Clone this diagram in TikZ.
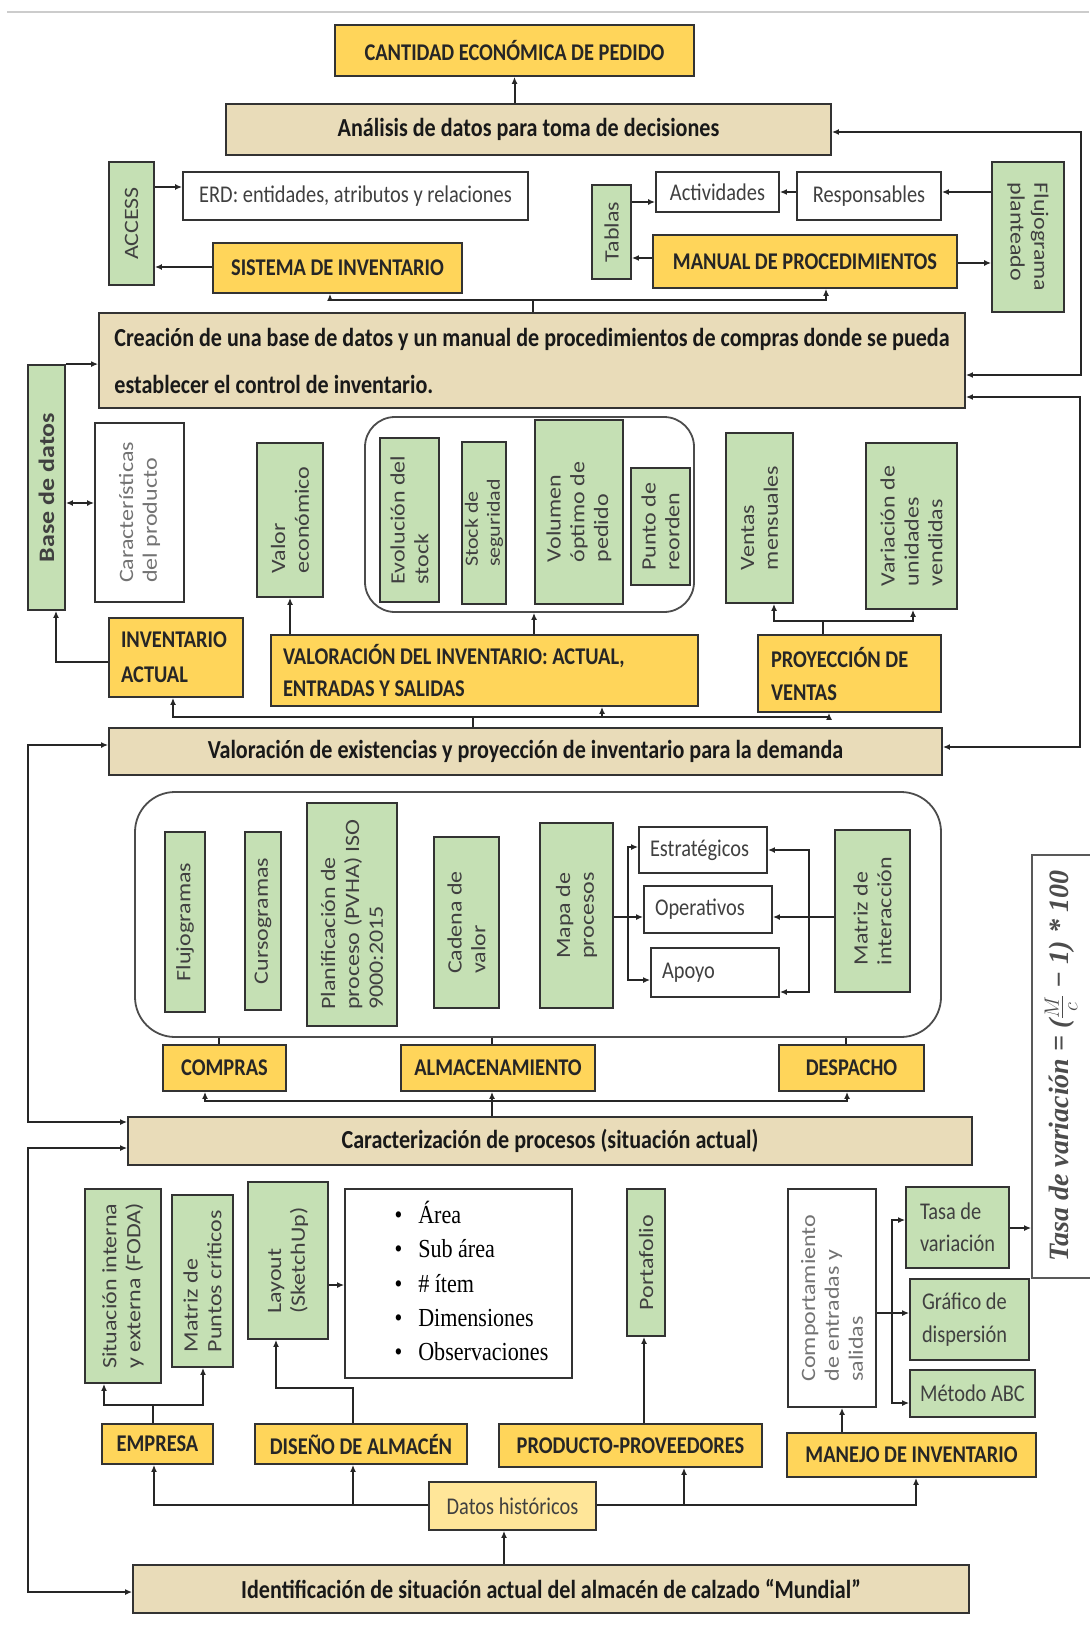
\documentclass[tikz,border=0pt]{standalone}
\usepackage{amsmath,amssymb}
\usepackage{fontspec}
\setmainfont{Carlito}[FakeStretch=0.85]
\newfontfamily\vfont{Carlito}
\newfontfamily\listfont{Liberation Serif}[FakeStretch=0.85]
\newfontfamily\formfont{Liberation Serif}
\usetikzlibrary{arrows.meta}
\definecolor{gold}{HTML}{FFD55A}
\definecolor{parch}{HTML}{E9DCB9}
\definecolor{leaf}{HTML}{C5E0B4}
\definecolor{pale}{HTML}{FFE699}

\tikzset{
  bx/.style={draw=black!80, line width=1.8pt, inner sep=0pt, text=black!85},
  ybox/.style={bx, fill=gold, font=\bfseries\fontsize{24}{28}\selectfont},
  tbox/.style={bx, fill=parch, text=black!90, font=\bfseries\fontsize{26}{30}\selectfont},
  gbox/.style={bx, fill=leaf, text=black!75, font=\fontsize{24}{28}\selectfont},
  wbox/.style={bx, fill=white, text=black!75, font=\fontsize{24}{28}\selectfont},
  vbase/.style={align=left, text=black!75, font=\vfont\fontsize{24}{28}\selectfont},
  vt/.style={vbase, rotate=90, yscale=0.85},
  vtr/.style={vbase, rotate=-90, yscale=0.85},
  grp/.style={draw=black!70, line width=1.8pt, rounded corners=30pt},
  link/.style={line width=2pt, draw=black!85},
  arr/.style={link, -{Latex[length=7pt,width=6pt]}},
  dbl/.style={link, {Latex[length=7pt,width=6pt]}-{Latex[length=7pt,width=6pt]}},
}

\begin{document}
\begin{tikzpicture}[x=1pt,y=-1pt]
\useasboundingbox (0,0) rectangle (1089,1629);
\draw[black!20, line width=2pt] (7,12) -- (1089,12);

% decision and design
\node[ybox, minimum width=359, minimum height=51] (ceq) at (514.5,50.5) {CANTIDAD ECONÓMICA DE PEDIDO};
\node[tbox, minimum width=605, minimum height=51] (anal) at (528.5,129.5) {Análisis de datos para toma de decisiones};
\node[gbox, minimum width=45, minimum height=123, label={[vt]center:{ACCESS}}] (access) at (131.5,223.5) {};
\node[wbox, minimum width=345, minimum height=48] (erd) at (355.5,196) {ERD: entidades, atributos y relaciones};
\node[ybox, minimum width=249, minimum height=50] (sisinv) at (337.5,268) {SISTEMA DE INVENTARIO};
\node[gbox, minimum width=39, minimum height=94, label={[vt]center:{Tablas}}] (tablas) at (611.5,232) {};
\node[wbox, minimum width=123, minimum height=40] (activ) at (717.5,192) {Actividades};
\node[wbox, minimum width=144, minimum height=48] (resp) at (869,196) {Responsables};
\node[gbox, minimum width=72, minimum height=150, label={[vtr]center:{Flujograma\\planteado}}] (flujo) at (1028,237) {};
\node[ybox, minimum width=304, minimum height=53] (manual) at (805,261.5) {MANUAL DE PROCEDIMIENTOS};
\node[tbox, minimum width=866, minimum height=95, align=flush left, font=\bfseries\fontsize{26}{47}\selectfont] (crea) at (532,360.5) {Creación de una base de datos y un manual de procedimientos de compras donde se pueda\\establecer el control de inventario.};

% valuation
\node[gbox, minimum width=37, minimum height=245, label={[vt,font=\vfont\bfseries\fontsize{26}{30}\selectfont]center:{Base de datos}}] (bd) at (46.5,487.5) {};
\node[wbox, minimum width=89, minimum height=179, label={[vt,text=black!55]center:{Características\\del producto}}] (carac) at (139.5,512.5) {};
\node[gbox, minimum width=66, minimum height=154, label={[vt]center:{Valor\\económico}}] (valor) at (290,520) {};
\node[grp, minimum width=329, minimum height=195] (grupo1) at (529.5,514.5) {};
\node[gbox, minimum width=59, minimum height=164, label={[vt]center:{Evolución del\\stock}}] (evol) at (409.5,520) {};
\node[gbox, minimum width=44, minimum height=162, label={[vt,font=\vfont\fontsize{22}{26}\selectfont]center:{Stock de\\seguridad}}] (stock) at (484,523) {};
\node[gbox, minimum width=88, minimum height=184, label={[vt]center:{Volumen\\óptimo de\\pedido}}] (vol) at (579,512) {};
\node[gbox, minimum width=59, minimum height=117, label={[vt]center:{Punto de\\reorden}}] (punto) at (660.5,526.5) {};
\node[gbox, minimum width=67, minimum height=170, label={[vt]center:{Ventas\\mensuales}}] (vmens) at (759.5,518) {};
\node[gbox, minimum width=91, minimum height=166, label={[vt]center:{Variación de\\unidades\\vendidas}}] (vuni) at (911.5,526) {};
\node[ybox, minimum width=134, minimum height=79, text width=110, align=flush left, font=\bfseries\fontsize{24}{35}\selectfont] (invact) at (176,657.5) {INVENTARIO\\ACTUAL};
\node[ybox, minimum width=427, minimum height=71, text width=403, align=flush left, font=\bfseries\fontsize{24}{32}\selectfont] (valinv) at (484.5,670.5) {VALORACIÓN DEL INVENTARIO: ACTUAL,\\ENTRADAS Y SALIDAS};
\node[ybox, minimum width=183, minimum height=77, text width=157, align=flush left, font=\bfseries\fontsize{24}{33}\selectfont] (proy) at (849.5,673.5) {PROYECCIÓN DE\\VENTAS};
\node[tbox, minimum width=833, minimum height=47] (exist) at (525.5,751.5) {Valoración de existencias y proyección de inventario para la demanda};

% processes
\node[grp, rounded corners=40pt, minimum width=806, minimum height=245] (grupo2) at (538,914.5) {};
\node[gbox, minimum width=40, minimum height=180, label={[vt]center:{Flujogramas}}] (flujog) at (185,922) {};
\node[gbox, minimum width=36, minimum height=178, label={[vt]center:{Cursogramas}}] (curso) at (263,921) {};
\node[gbox, minimum width=90, minimum height=223, label={[vt]center:{Planificación de\\proceso (PVHA) ISO\\9000:2015}}] (plan) at (352,914.5) {};
\node[gbox, minimum width=65, minimum height=171, label={[vt]center:{Cadena de\\valor}}] (cadena) at (466.5,922.5) {};
\node[gbox, minimum width=73, minimum height=185, label={[vt]center:{Mapa de\\procesos}}] (mapa) at (576.5,915.5) {};
\node[wbox, minimum width=128, minimum height=46, text width=106, align=flush left] (estra) at (703,850) {Estratégicos};
\node[wbox, minimum width=128, minimum height=47, text width=106, align=flush left] (oper) at (708,909.5) {Operativos};
\node[wbox, minimum width=128, minimum height=49, text width=106, align=flush left] (apoyo) at (715,972.5) {Apoyo};
\node[gbox, minimum width=75, minimum height=162, label={[vt]center:{Matriz de\\interacción}}] (matriz) at (872.5,911) {};
\node[ybox, minimum width=123, minimum height=46] (compras) at (224.5,1068) {COMPRAS};
\node[ybox, minimum width=194, minimum height=46] (almac) at (498,1068) {ALMACENAMIENTO};
\node[ybox, minimum width=145, minimum height=46] (despacho) at (851.5,1068) {DESPACHO};
\node[tbox, minimum width=844, minimum height=48] (caract) at (550,1141) {Caracterización de procesos (situación actual)};
\node[wbox, draw=black!65, minimum width=63, minimum height=423] (formula) at (1063.5,1066.5) {};
\node[rotate=90, text=black!70, font=\formfont\bfseries\itshape\fontsize{28}{32}\selectfont] (formtxt) at (1061,1066) {Tasa de variación = ($\frac{M}{c}$ − 1) * 100};

% current situation
\node[gbox, minimum width=76, minimum height=194, label={[vt]center:{Situación interna\\y externa (FODA)}}] (foda) at (123,1286) {};
\node[gbox, minimum width=61, minimum height=172, label={[vt]center:{Matriz de\\Puntos críticos}}] (mpc) at (202.5,1281) {};
\node[gbox, minimum width=80, minimum height=157, label={[vt]center:{Layout\\(SketchUp)}}] (layout) at (288,1260.5) {};
\node[wbox, minimum width=227, minimum height=189] (lista) at (458.5,1283.5) {};
\node[anchor=west, align=left, text=black, font=\listfont\fontsize{26}{34.25}\selectfont] (items) at (391,1281) {\textbullet\hspace{16pt}Área\\\textbullet\hspace{16pt}Sub área\\\textbullet\hspace{16pt}\# ítem\\\textbullet\hspace{16pt}Dimensiones\\\textbullet\hspace{16pt}Observaciones};
\node[gbox, minimum width=38, minimum height=147, label={[vt]center:{Portafolio}}] (porta) at (646,1262.5) {};
\node[wbox, minimum width=88, minimum height=218, label={[vt,text=black!55]center:{Comportamiento\\de entradas y\\salidas}}] (comp) at (832,1298) {};
\node[gbox, minimum width=103, minimum height=81, text width=75, align=flush left, font=\fontsize{24}{32}\selectfont] (tasa) at (957.5,1227.5) {Tasa de\\variación};
\node[gbox, minimum width=119, minimum height=81, text width=95, align=flush left, font=\fontsize{24}{33}\selectfont] (graf) at (969.5,1319.5) {Gráfico de\\dispersión};
\node[gbox, minimum width=125, minimum height=47] (abc) at (972.5,1393.5) {Método ABC};
\node[ybox, minimum width=111, minimum height=40] (empresa) at (157.5,1444) {EMPRESA};
\node[ybox, minimum width=212, minimum height=40] (diseno) at (361,1444) {DISEÑO DE ALMACÉN};
\node[ybox, minimum width=263, minimum height=43] (producto) at (630.5,1445.5) {PRODUCTO-PROVEEDORES};
\node[ybox, minimum width=249, minimum height=44] (manejo) at (911.5,1455) {MANEJO DE INVENTARIO};
\node[bx, fill=pale, text=black!75, font=\fontsize{24}{28}\selectfont, minimum width=167, minimum height=48] (datos) at (512.5,1506) {Datos históricos};
\node[tbox, minimum width=836, minimum height=48] (ident) at (551,1589) {Identificación de situación actual del almacén de calzado “Mundial”};

% connectors, top half
\draw[arr] (anal.north -| ceq.south) -- (ceq.south);
\draw[dbl] (crea.east |- 0,375) -- (1081,375) -- (1081,132) -- (anal.east |- 0,132);
\draw[dbl] (crea.east |- 0,397) -- (1080,397) -- (1080,747) -- (exist.east |- 0,747);
\draw[arr] (access.east |- 0,187) -- (erd.west |- 0,187);
\draw[arr] (sisinv.west |- 0,267) -- (access.east |- 0,267);
\draw[arr] (flujo.west |- 0,192) -- (resp.east |- 0,192);
\draw[arr] (resp.west |- 0,192) -- (activ.east |- 0,192);
\draw[arr] (tablas.east |- 0,202) -- (activ.west |- 0,202);
\draw[arr] (manual.west |- 0,258) -- (tablas.east |- 0,258);
\draw[arr] (manual.east |- 0,263) -- (flujo.west |- 0,263);
\coordinate (j1) at (533,300);
\draw[link] (crea.north -| j1) -- (j1);
\draw[dbl] (sisinv.south -| 330,0) -- (330,300) -- (826,300) -- (manual.south -| 826,0);
\draw[arr] (bd.north east) -- (bd.north east -| crea.west);
\draw[dbl] (bd.east |- 0,503) -- (carac.west |- 0,503);
\draw[arr] (invact.west |- 0,662) -- (56,662) -- (bd.south -| 56,0);
\draw[arr] (valinv.north -| 290,0) -- (valor.south -| 290,0);
\draw[arr] (valinv.north -| 534,0) -- (grupo1.south -| 534,0);
\coordinate (j2) at (823,621);
\draw[link] (proy.north -| j2) -- (j2);
\draw[dbl] (vmens.south -| 774,0) -- (774,621) -- (913,621) -- (vuni.south -| 913,0);
\coordinate (j3) at (473,717);
\draw[link] (exist.north -| j3) -- (j3);
\draw[dbl] (invact.south -| 173,0) -- (173,717) -- (829,717) -- (proy.south -| 829,0);
\draw[arr] (602,717) -- (valinv.south -| 602,0);

% connectors, bottom half
\draw[dbl] (exist.west |- 0,745) -- (28,745) -- (28,1122) -- (caract.west |- 0,1122);
\draw[arr] (mapa.east |- 0,917) -- (oper.west |- 0,917);
\draw[dbl] (estra.west |- 0,847) -- (628,847) -- (628,980) -- (apoyo.west |- 0,980);
\draw[arr] (matriz.west |- 0,917) -- (oper.east |- 0,917);
\draw[dbl] (estra.east |- 0,850) -- (809,850) -- (809,992) -- (apoyo.east |- 0,992);
\foreach \n/\x in {compras/219, almac/492, despacho/846}
  \draw[link] (\n.north -| \x,0) -- (grupo2.south -| \x,0);
\draw[dbl] (compras.south -| 205,0) -- (205,1101) -- (847,1101) -- (despacho.south -| 847,0);
\draw[arr] (caract.north -| 492,0) -- (almac.south -| 492,0);
\draw[dbl] (caract.west |- 0,1148) -- (28,1148) -- (28,1592) -- (ident.west |- 0,1592);
\draw[arr] (tasa.east |- 0,1228) -- (formula.west |- 0,1228);
\draw[arr] (comp.east |- 0,1313) -- (graf.west |- 0,1313);
\draw[dbl] (tasa.west |- 0,1220) -- (892,1220) -- (892,1403) -- (abc.west |- 0,1403);
\draw[link] (empresa.north -| 153,0) -- (153,1405);
\draw[dbl] (foda.south -| 104,0) -- (104,1405) -- (203,1405) -- (mpc.south -| 203,0);
\draw[arr] (diseno.north -| 353,0) -- (353,1388) -- (276,1388) -- (layout.south -| 276,0);
\draw[arr] (layout.east |- 0,1285) -- (lista.west |- 0,1285);
\draw[arr] (producto.north -| 644,0) -- (porta.south -| 644,0);
\draw[arr] (manejo.north -| 842,0) -- (comp.south -| 842,0);
\draw[arr] (datos.west |- 0,1505) -- (154,1505) -- (empresa.south -| 154,0);
\draw[arr] (353,1505) -- (diseno.south -| 353,0);
\draw[arr] (datos.east |- 0,1505) -- (916,1505) -- (manejo.south -| 916,0);
\draw[arr] (684,1505) -- (producto.south -| 684,0);
\draw[arr] (ident.north -| 504,0) -- (datos.south -| 504,0);
\end{tikzpicture}
\end{document}
